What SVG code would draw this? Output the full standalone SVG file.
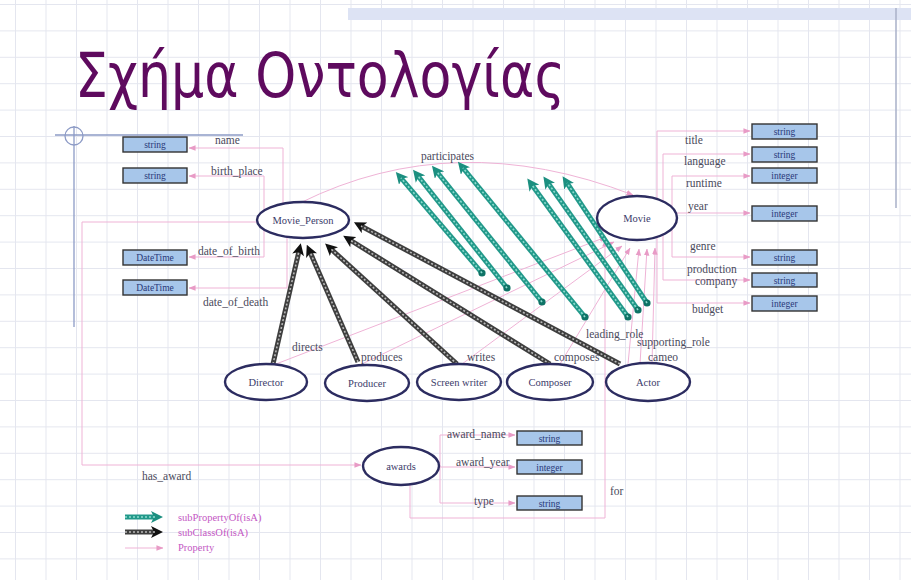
<svg xmlns="http://www.w3.org/2000/svg" width="911" height="580" viewBox="0 0 911 580">
  <style>
    .lbl { font-family: "Liberation Serif", "DejaVu Serif", serif; font-size: 11.5px; fill: #4a4a5c; }
    .node-txt { font-family: "Liberation Serif", "DejaVu Serif", serif; font-size: 10.5px; fill: #3b3b6a; text-anchor: middle; }
    .box-txt { font-family: "Liberation Serif", "DejaVu Serif", serif; font-size: 9.5px; fill: #283878; text-anchor: middle; }
    .cls { fill: #ffffff; stroke: #2c2c60; stroke-width: 2.4; }
    .box { fill: #a7c6ea; stroke: #333333; stroke-width: 1.4; }
    .prop { fill: none; stroke: #efb3d6; stroke-width: 1; }
    .prop-a { fill: none; stroke: #efb3d6; stroke-width: 1; marker-end: url(#ah-pink); }
    .sp-base { stroke: #22998a; stroke-width: 5; stroke-linecap: butt; }
    .sp-hi { stroke: #8edccf; stroke-width: 1.6; stroke-dasharray: 2 2; }
    .sc-base { stroke: #3e3e3e; stroke-width: 5; stroke-linecap: butt; }
    .sc-hi { stroke: #b9b9b9; stroke-width: 1.6; stroke-dasharray: 2 2; }
    .legend { font-family: "Liberation Serif", "DejaVu Serif", serif; font-size: 10.5px; fill: #c458c4; }
    .deco { fill: none; stroke: #8d9bc6; stroke-width: 1.3; }
  </style>
  <defs>
    <pattern id="grid" x="15" y="4" width="30.5" height="26.4" patternUnits="userSpaceOnUse">
      <path d="M0.5,0 V26.4 M0,0.5 H30.5" fill="none" stroke="#e4e6ef" stroke-width="1"/>
    </pattern>
    <marker id="ah-pink" viewBox="0 0 8 8" refX="7.5" refY="4" markerWidth="7" markerHeight="7" orient="auto" markerUnits="userSpaceOnUse">
      <path d="M0,0.8 L8,4 L0,7.2 z" fill="#e89bc6"/>
    </marker>
    <marker id="ah-teal" viewBox="0 0 12 12" refX="4" refY="6" markerWidth="12" markerHeight="12" orient="auto" markerUnits="userSpaceOnUse">
      <path d="M0,0 L12,6 L0,12 L3,6 z" fill="#1c8f80"/>
    </marker>
    <marker id="ah-gray" viewBox="0 0 12 12" refX="4" refY="6" markerWidth="12" markerHeight="12" orient="auto" markerUnits="userSpaceOnUse">
      <path d="M0,0 L12,6 L0,12 L3,6 z" fill="#111111"/>
    </marker>
    <marker id="dot" viewBox="0 0 8 8" refX="4" refY="4" markerWidth="8" markerHeight="8" markerUnits="userSpaceOnUse">
      <circle cx="4" cy="4" r="3.6" fill="#0f7366"/>
    </marker>
  </defs>

  <!-- slide background -->
  <rect width="911" height="580" fill="#ffffff"/>
  <rect width="911" height="580" fill="url(#grid)"/>
  <rect x="348" y="8" width="563" height="12" fill="#dde3f4"/>
  <line x1="896" y1="8" x2="896" y2="208" stroke="#a9b1c9" stroke-width="1.5"/>
  <g id="corner-mark">
    <line class="deco" x1="55" y1="135" x2="243" y2="135"/>
    <line class="deco" x1="74" y1="126" x2="74" y2="327"/>
    <circle class="deco" cx="74" cy="136" r="9"/>
  </g>

  <text x="75" y="97" font-family="'DejaVu Sans', 'Noto Sans', sans-serif" font-size="62" fill="#5e0a5e" textLength="490" lengthAdjust="spacingAndGlyphs">Σχήμα Οντολογίας</text>

  <!-- connectors -->
  <g id="connectors">
    <!-- datatype properties of Movie_Person -->
    <path class="prop" d="M283,203 V148"/>
    <path class="prop-a" d="M283,148 H189"/>
    <path class="prop" d="M264,210 V176"/>
    <path class="prop-a" d="M264,176 H189"/>
    <path class="prop" d="M264,230 V257"/>
    <path class="prop-a" d="M264,257 H189"/>
    <path class="prop" d="M287,237 V288"/>
    <path class="prop-a" d="M287,288 H189"/>

    <!-- has_award -->
    <path class="prop-a" d="M257,222 H82 V465 H361"/>

    <!-- participates -->
    <path class="prop-a" d="M300,203 Q455,126 633,195"/>

    <!-- Movie datatype properties -->
    <path class="prop-a" d="M657,199 V131 H750"/>
    <path class="prop-a" d="M663,201 V154 H750"/>
    <path class="prop-a" d="M672,207 V176 H750"/>
    <path class="prop-a" d="M677,213 H750"/>
    <path class="prop-a" d="M672,229 V257 H750"/>
    <path class="prop-a" d="M663,235 V280 H750"/>
    <path class="prop-a" d="M657,237 V303 H750"/>

    <!-- object properties from the person classes to Movie -->
    <path class="prop-a" d="M276,364 L606,237"/>
    <path class="prop-a" d="M362,364 L614,242"/>
    <path class="prop-a" d="M462,364 L622,246"/>
    <path class="prop-a" d="M560,364 L630,248"/>
    <path class="prop-a" d="M628,364 L639,249"/>
    <path class="prop-a" d="M640,364 L647,249"/>
    <path class="prop-a" d="M652,364 L655,248"/>

    <!-- awards properties -->
    <path class="prop" d="M439,466 H440 M440,435 V503"/>
    <path class="prop-a" d="M440,435 H515"/>
    <path class="prop-a" d="M439,467 H515"/>
    <path class="prop-a" d="M440,503 H515"/>
    <path class="prop-a" d="M410,485 V518 H605 V240"/>

    <!-- subPropertyOf (isA) -->
    <g id="subprop">
      <line class="sp-base" x1="482" y1="273" x2="401" y2="178" marker-start="url(#dot)" marker-end="url(#ah-teal)"/>
      <line class="sp-hi" x1="482" y1="273" x2="401" y2="178"/>
      <line class="sp-base" x1="507" y1="288" x2="418" y2="176" marker-start="url(#dot)" marker-end="url(#ah-teal)"/>
      <line class="sp-hi" x1="507" y1="288" x2="418" y2="176"/>
      <line class="sp-base" x1="542" y1="302" x2="437" y2="172" marker-start="url(#dot)" marker-end="url(#ah-teal)"/>
      <line class="sp-hi" x1="542" y1="302" x2="437" y2="172"/>
      <line class="sp-base" x1="585" y1="317" x2="463" y2="168" marker-start="url(#dot)" marker-end="url(#ah-teal)"/>
      <line class="sp-hi" x1="585" y1="317" x2="463" y2="168"/>
      <line class="sp-base" x1="628" y1="317" x2="532" y2="185" marker-start="url(#dot)" marker-end="url(#ah-teal)"/>
      <line class="sp-hi" x1="628" y1="317" x2="532" y2="185"/>
      <line class="sp-base" x1="638" y1="310" x2="548" y2="183" marker-start="url(#dot)" marker-end="url(#ah-teal)"/>
      <line class="sp-hi" x1="638" y1="310" x2="548" y2="183"/>
      <line class="sp-base" x1="647" y1="303" x2="567" y2="183" marker-start="url(#dot)" marker-end="url(#ah-teal)"/>
      <line class="sp-hi" x1="647" y1="303" x2="567" y2="183"/>
    </g>

    <!-- subClassOf (isA) -->
    <g id="subclass">
      <line class="sc-base" x1="273" y1="364" x2="299" y2="251" marker-end="url(#ah-gray)"/>
      <line class="sc-hi" x1="273" y1="364" x2="299" y2="251"/>
      <line class="sc-base" x1="358" y1="362" x2="310" y2="252" marker-end="url(#ah-gray)"/>
      <line class="sc-hi" x1="358" y1="362" x2="310" y2="252"/>
      <line class="sc-base" x1="457" y1="364" x2="331" y2="249" marker-end="url(#ah-gray)"/>
      <line class="sc-hi" x1="457" y1="364" x2="331" y2="249"/>
      <line class="sc-base" x1="550" y1="364" x2="350" y2="240" marker-end="url(#ah-gray)"/>
      <line class="sc-hi" x1="550" y1="364" x2="350" y2="240"/>
      <line class="sc-base" x1="620" y1="364" x2="361" y2="226" marker-end="url(#ah-gray)"/>
      <line class="sc-hi" x1="620" y1="364" x2="361" y2="226"/>
    </g>
  </g>

  <!-- property labels -->
  <g id="labels">
    <text class="lbl" x="215" y="144">name</text>
    <text class="lbl" x="211" y="175">birth_place</text>
    <text class="lbl" x="198" y="255">date_of_birth</text>
    <text class="lbl" x="203" y="306">date_of_death</text>
    <text class="lbl" x="421" y="160">participates</text>
    <text class="lbl" x="685" y="144">title</text>
    <text class="lbl" x="684" y="165">language</text>
    <text class="lbl" x="686" y="187">runtime</text>
    <text class="lbl" x="688" y="210">year</text>
    <text class="lbl" x="690" y="250">genre</text>
    <text class="lbl" x="687" y="273">production</text>
    <text class="lbl" x="695" y="285">company</text>
    <text class="lbl" x="692" y="313">budget</text>
    <text class="lbl" x="292" y="351">directs</text>
    <text class="lbl" x="361" y="361">produces</text>
    <text class="lbl" x="467" y="361">writes</text>
    <text class="lbl" x="554" y="361">composes</text>
    <text class="lbl" x="586" y="338">leading_role</text>
    <text class="lbl" x="637" y="346">supporting_role</text>
    <text class="lbl" x="648" y="361">cameo</text>
    <text class="lbl" x="142" y="480">has_award</text>
    <text class="lbl" x="447" y="438">award_name</text>
    <text class="lbl" x="456" y="466">award_year</text>
    <text class="lbl" x="474" y="505">type</text>
    <text class="lbl" x="610" y="495">for</text>
  </g>

  <!-- datatype boxes -->
  <g id="dt-name"><rect class="box" x="123" y="137" width="64" height="15"/><text class="box-txt" x="155" y="148">string</text></g>
  <g id="dt-birth-place"><rect class="box" x="123" y="168" width="64" height="15"/><text class="box-txt" x="155" y="179">string</text></g>
  <g id="dt-date-of-birth"><rect class="box" x="123" y="250" width="64" height="15"/><text class="box-txt" x="155" y="261">DateTime</text></g>
  <g id="dt-date-of-death"><rect class="box" x="123" y="280" width="64" height="15"/><text class="box-txt" x="155" y="291">DateTime</text></g>

  <g id="dt-title"><rect class="box" x="752" y="124" width="65" height="15"/><text class="box-txt" x="784.5" y="135">string</text></g>
  <g id="dt-language"><rect class="box" x="752" y="147" width="65" height="15"/><text class="box-txt" x="784.5" y="158">string</text></g>
  <g id="dt-runtime"><rect class="box" x="752" y="168" width="65" height="15"/><text class="box-txt" x="784.5" y="179">integer</text></g>
  <g id="dt-year"><rect class="box" x="752" y="206" width="65" height="15"/><text class="box-txt" x="784.5" y="217">integer</text></g>
  <g id="dt-genre"><rect class="box" x="752" y="250" width="65" height="15"/><text class="box-txt" x="784.5" y="261">string</text></g>
  <g id="dt-company"><rect class="box" x="752" y="273" width="65" height="14"/><text class="box-txt" x="784.5" y="283.5">string</text></g>
  <g id="dt-budget"><rect class="box" x="752" y="296" width="65" height="15"/><text class="box-txt" x="784.5" y="307">integer</text></g>

  <g id="dt-award-name"><rect class="box" x="517" y="431" width="65" height="14"/><text class="box-txt" x="549.5" y="441.5">string</text></g>
  <g id="dt-award-year"><rect class="box" x="517" y="460" width="65" height="14"/><text class="box-txt" x="549.5" y="470.5">integer</text></g>
  <g id="dt-type"><rect class="box" x="517" y="496" width="65" height="14"/><text class="box-txt" x="549.5" y="506.5">string</text></g>

  <!-- classes -->
  <g id="movie-person"><ellipse class="cls" cx="303" cy="220" rx="46" ry="18"/><text class="node-txt" x="303" y="223.5">Movie_Person</text></g>
  <g id="movie"><ellipse class="cls" cx="637" cy="218" rx="40" ry="22"/><text class="node-txt" x="637" y="221.5">Movie</text></g>
  <g id="director"><ellipse class="cls" cx="266" cy="382" rx="41" ry="18"/><text class="node-txt" x="266" y="385.5">Director</text></g>
  <g id="producer"><ellipse class="cls" cx="367" cy="383" rx="42" ry="18"/><text class="node-txt" x="367" y="386.5">Producer</text></g>
  <g id="screen-writer"><ellipse class="cls" cx="459" cy="382" rx="42" ry="18"/><text class="node-txt" x="459" y="385.5">Screen writer</text></g>
  <g id="composer"><ellipse class="cls" cx="550" cy="382" rx="43" ry="18"/><text class="node-txt" x="550" y="385.5">Composer</text></g>
  <g id="actor"><ellipse class="cls" cx="648" cy="382" rx="42" ry="19"/><text class="node-txt" x="648" y="385.5">Actor</text></g>
  <g id="awards"><ellipse class="cls" cx="401" cy="466" rx="38" ry="19"/><text class="node-txt" x="401" y="469.5">awards</text></g>

  <!-- legend -->
  <g id="legend">
    <line class="sp-base" x1="125" y1="517" x2="155" y2="517" marker-end="url(#ah-teal)"/>
    <line class="sp-hi" x1="125" y1="517" x2="155" y2="517"/>
    <line class="sc-base" x1="125" y1="532" x2="155" y2="532" marker-end="url(#ah-gray)"/>
    <line class="sc-hi" x1="125" y1="532" x2="155" y2="532"/>
    <line class="prop-a" x1="125" y1="548" x2="163" y2="548" stroke-width="1.6"/>
    <text class="legend" x="178" y="521">subPropertyOf(isA)</text>
    <text class="legend" x="178" y="536">subClassOf(isA)</text>
    <text class="legend" x="178" y="551">Property</text>
  </g>
</svg>
